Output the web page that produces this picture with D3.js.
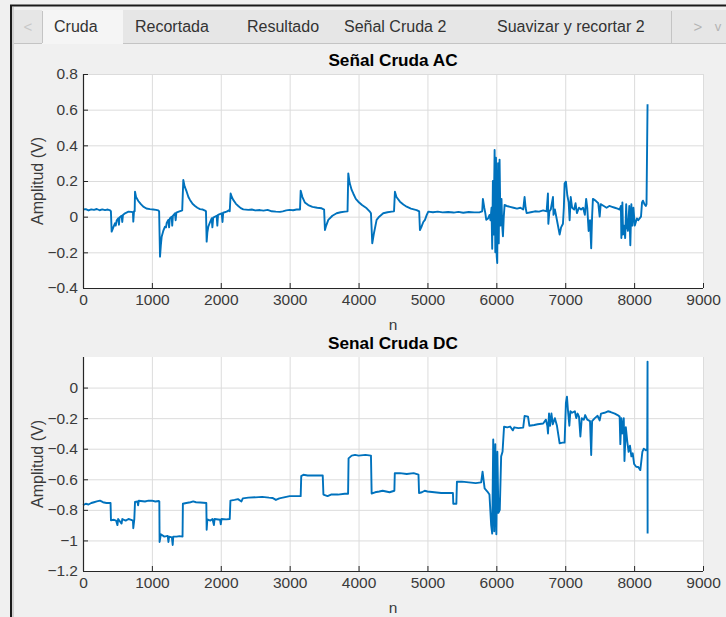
<!DOCTYPE html>
<html>
<head>
<meta charset="utf-8">
<script src="https://cdn.jsdelivr.net/npm/d3@7"></script>
<style>
  html, body { margin: 0; padding: 0; background: #f0f0f0; }
  svg { display: block; font-family: "Liberation Sans", Arial, sans-serif; }
  .tick text { fill: #3a3a3a; }
</style>
</head>
<body>
<svg id="chart" width="726" height="617"></svg>
<script>
// tabs of the app window
const tabLabels = ['Cruda', 'Recortada', 'Resultado', 'Señal Cruda 2', 'Suavizar y recortar 2'];
const tabEdges = [42, 123, 235, 335, 485, 671];

const xTicks = [0, 1000, 2000, 3000, 4000, 5000, 6000, 7000, 8000, 9000];
const acTicks = [-0.4, -0.2, 0, 0.2, 0.4, 0.6, 0.8];
const dcTicks = [-1.2, -1, -0.8, -0.6, -0.4, -0.2, 0];

// [n, amplitude]
const acSignal = [
  [0,0.04],[40,0.042],[80,0.035],[120,0.041],[160,0.038],[200,0.043],[240,0.036],[280,0.041],[320,0.037],[360,0.04],
  [395,0.035],[405,0.03],[416,-0.084],[440,-0.06],[464,-0.037],[475,-0.05],[490,-0.02],[512,-0.009],[522,-0.045],[530,-0.005],
  [560,0.005],[570,-0.03],[580,0.01],[610,0.019],[660,0.028],[700,0.027],[725,0.025],[730,-0.028],[740,0.03],[750,0.03],
  [755,0.14],[770,0.11],[803,0.088],[840,0.07],[875,0.056],[920,0.046],[972,0.042],[1020,0.04],[1060,0.038],[1093,0.035],
  [1105,0.03],[1118,-0.224],[1130,-0.16],[1142,-0.112],[1165,-0.08],[1190,-0.056],[1205,-0.06],[1215,-0.035],[1238,-0.018],[1250,-0.06],
  [1260,-0.01],[1287,0.0],[1295,-0.05],[1305,0.005],[1335,0.019],[1345,-0.02],[1355,0.022],[1390,0.028],[1432,0.034],[1440,0.035],
  [1456,0.206],[1475,0.17],[1505,0.14],[1530,0.11],[1553,0.094],[1590,0.072],[1626,0.06],[1660,0.05],[1698,0.042],[1740,0.04],
  [1771,0.034],[1785,0.03],[1795,-0.14],[1805,-0.09],[1819,-0.056],[1845,-0.03],[1868,-0.009],[1878,-0.06],[1890,-0.005],[1940,0.005],
  [1950,-0.05],[1960,0.01],[2013,0.019],[2025,-0.03],[2035,0.022],[2085,0.028],[2124,0.037],[2130,0.03],[2143,0.13],[2160,0.11],
  [2181,0.094],[2220,0.072],[2254,0.06],[2290,0.048],[2327,0.041],[2400,0.038],[2450,0.04],[2500,0.035],[2569,0.037],[2620,0.034],
  [2680,0.038],[2740,0.03],[2800,0.028],[2860,0.027],[2900,0.03],[2950,0.035],[3000,0.038],[3050,0.036],[3100,0.04],[3150,0.04],
  [3160,0.146],[3185,0.11],[3220,0.08],[3270,0.065],[3330,0.055],[3400,0.05],[3464,0.047],[3500,0.04],[3512,-0.075],[3530,-0.05],
  [3561,-0.018],[3620,0.005],[3682,0.019],[3740,0.025],[3802,0.028],[3840,0.03],[3851,0.243],[3870,0.19],[3900,0.15],[3923,0.13],
  [3960,0.1],[3996,0.084],[4050,0.065],[4118,0.047],[4160,0.03],[4180,0.019],[4199,-0.149],[4220,-0.1],[4262,-0.018],[4300,0.0],
  [4358,0.019],[4420,0.025],[4480,0.028],[4515,0.03],[4528,0.14],[4550,0.11],[4601,0.084],[4650,0.068],[4698,0.056],[4760,0.045],
  [4843,0.037],[4880,0.03],[4891,-0.075],[4910,-0.06],[4940,-0.03],[4964,-0.018],[4990,0.01],[5012,0.028],[5080,0.025],[5150,0.028],
  [5220,0.024],[5300,0.026],[5380,0.023],[5450,0.027],[5520,0.022],[5600,0.026],[5680,0.024],[5760,0.025],[5795,0.03],[5805,0.1],
  [5825,0.05],[5840,0.02],[5854,-0.018],[5880,-0.01],[5902,0.01],[5915,-0.02],[5930,0.05],[5940,-0.18],[5950,0.2],[5960,-0.1],
  [5975,0.374],[5985,-0.2],[5995,0.33],[6005,-0.22],[6013,-0.26],[6025,0.3],[6035,-0.15],[6047,0.32],[6060,-0.05],[6075,0.1],
  [6085,-0.05],[6096,-0.11],[6108,0.0],[6120,0.066],[6150,0.06],[6200,0.055],[6250,0.05],[6300,0.045],[6350,0.05],[6390,0.04],
  [6410,0.11],[6425,0.05],[6440,0.02],[6500,0.025],[6560,0.03],[6620,0.028],[6680,0.035],[6730,0.03],[6749,0.13],[6755,-0.04],
  [6770,0.03],[6790,0.04],[6822,0.11],[6830,0.01],[6850,0.04],[6880,-0.02],[6919,-0.1],[6940,-0.06],[6967,-0.04],[6980,0.05],
  [6991,0.187],[7010,0.196],[7030,0.12],[7050,0.08],[7064,-0.02],[7080,0.11],[7100,0.05],[7130,0.04],[7150,0.075],[7170,0.02],
  [7200,0.05],[7230,0.04],[7260,0.05],[7285,0.01],[7304,0.1],[7320,0.05],[7340,-0.08],[7360,-0.02],[7377,-0.177],[7390,0.0],
  [7402,0.1],[7440,0.09],[7480,0.075],[7500,0.0],[7515,0.07],[7560,0.06],[7600,0.05],[7640,0.06],[7680,0.055],[7720,0.05],
  [7760,0.045],[7790,0.04],[7808,0.06],[7815,-0.12],[7830,0.08],[7840,-0.1],[7855,-0.05],[7870,-0.12],[7885,0.07],[7895,-0.05],
  [7910,-0.08],[7930,0.06],[7945,-0.16],[7960,0.07],[7975,-0.05],[7990,0.05],[8010,-0.05],[8025,-0.03],[8040,-0.01],[8060,-0.02],
  [8080,-0.01],[8100,0.0],[8115,0.08],[8128,0.09],[8150,0.07],[8170,0.06],[8180,0.07],[8195,0.63]
];

// [n, amplitude]
const dcSignal = [
  [0,-0.77],[40,-0.76],[80,-0.765],[120,-0.755],[160,-0.75],[200,-0.745],[247,-0.74],[290,-0.75],[340,-0.755],[400,-0.755],
  [406,-0.868],[450,-0.865],[480,-0.87],[500,-0.9],[510,-0.86],[560,-0.89],[570,-0.86],[620,-0.87],[660,-0.86],[700,-0.865],
  [725,-0.87],[730,-0.92],[745,-0.86],[755,-0.748],[790,-0.745],[800,-0.77],[810,-0.74],[900,-0.745],[950,-0.74],[1000,-0.74],
  [1050,-0.745],[1100,-0.742],[1108,-0.745],[1112,-1.01],[1130,-0.96],[1180,-0.975],[1230,-0.97],[1240,-1.01],[1250,-0.975],[1290,-0.98],
  [1302,-1.03],[1310,-0.975],[1360,-0.975],[1400,-0.972],[1445,-0.975],[1450,-0.76],[1500,-0.755],[1560,-0.75],[1600,-0.745],[1640,-0.75],
  [1700,-0.752],[1790,-0.755],[1795,-0.93],[1805,-0.863],[1850,-0.87],[1880,-0.86],[1900,-0.9],[1910,-0.86],[1990,-0.865],[2000,-0.895],
  [2010,-0.86],[2080,-0.862],[2130,-0.86],[2140,-0.74],[2200,-0.735],[2250,-0.73],[2300,-0.745],[2320,-0.725],[2400,-0.72],[2500,-0.718],
  [2600,-0.715],[2700,-0.72],[2750,-0.722],[2800,-0.735],[2850,-0.725],[2900,-0.72],[3000,-0.71],[3100,-0.71],[3160,-0.71],[3168,-0.579],
  [3200,-0.57],[3260,-0.575],[3320,-0.575],[3400,-0.575],[3480,-0.575],[3490,-0.7],[3550,-0.71],[3600,-0.7],[3700,-0.7],[3800,-0.695],
  [3848,-0.695],[3855,-0.463],[3900,-0.445],[3950,-0.44],[4000,-0.445],[4100,-0.44],[4180,-0.445],[4190,-0.693],[4240,-0.685],[4300,-0.68],
  [4350,-0.675],[4400,-0.68],[4450,-0.685],[4520,-0.675],[4526,-0.561],[4600,-0.56],[4700,-0.565],[4800,-0.56],[4870,-0.57],[4878,-0.69],
  [4920,-0.685],[4960,-0.675],[5000,-0.68],[5100,-0.685],[5200,-0.69],[5300,-0.69],[5370,-0.69],[5375,-0.76],[5420,-0.76],[5428,-0.616],
  [5500,-0.615],[5600,-0.62],[5700,-0.625],[5780,-0.62],[5800,-0.55],[5830,-0.66],[5870,-0.68],[5900,-0.7],[5925,-0.9],[5940,-0.955],
  [5955,-0.34],[5970,-0.94],[5985,-0.37],[6000,-0.96],[6015,-0.42],[6030,-0.82],[6050,-0.8],[6070,-0.45],[6090,-0.42],[6112,-0.256],
  [6160,-0.26],[6200,-0.255],[6240,-0.28],[6260,-0.26],[6320,-0.265],[6390,-0.262],[6410,-0.186],[6460,-0.19],[6480,-0.25],[6550,-0.245],
  [6600,-0.24],[6680,-0.235],[6720,-0.21],[6740,-0.25],[6750,-0.3],[6765,-0.17],[6780,-0.25],[6800,-0.17],[6820,-0.24],[6850,-0.2],
  [6880,-0.25],[6919,-0.365],[6960,-0.36],[6991,-0.36],[7010,-0.1],[7025,-0.059],[7040,-0.15],[7060,-0.25],[7075,-0.155],[7100,-0.165],
  [7140,-0.155],[7160,-0.2],[7180,-0.17],[7200,-0.19],[7220,-0.32],[7240,-0.2],[7270,-0.21],[7290,-0.18],[7320,-0.21],[7360,-0.22],
  [7377,-0.441],[7390,-0.22],[7430,-0.2],[7470,-0.185],[7500,-0.215],[7520,-0.17],[7570,-0.165],[7620,-0.155],[7660,-0.16],[7720,-0.17],
  [7760,-0.18],[7790,-0.19],[7800,-0.37],[7815,-0.2],[7830,-0.3],[7850,-0.2],[7860,-0.48],[7880,-0.26],[7900,-0.35],[7920,-0.42],
  [7940,-0.38],[7960,-0.45],[7980,-0.43],[8000,-0.5],[8030,-0.518],[8060,-0.52],[8090,-0.54],[8120,-0.42],[8140,-0.4],[8170,-0.41],
  [8190,-0.4],[8195,0.17],[8196,-0.955]
];

const svg = d3.select('#chart');
const lineColor = '#0072bd';
const gridColor = '#dcdcdc';
const axisColor = '#262626';

// window frame
svg.append('rect').attr('x', 0).attr('y', 0).attr('width', 726).attr('height', 617).attr('fill', '#f0f0f0');
svg.append('line').attr('x1', 10).attr('x2', 726).attr('y1', 5.5).attr('y2', 5.5).attr('stroke', '#1a1a1a').attr('stroke-width', 2);
svg.append('line').attr('x1', 11).attr('x2', 11).attr('y1', 5).attr('y2', 617).attr('stroke', '#1a1a1a').attr('stroke-width', 2);
svg.append('line').attr('x1', 13).attr('x2', 13).attr('y1', 7).attr('y2', 617).attr('stroke', '#b0b0b0').attr('stroke-width', 1);

// tab strip
const tabs = svg.append('g').attr('class', 'tabs');
tabs.append('rect').attr('x', 14).attr('y', 10).attr('width', 712).attr('height', 33).attr('fill', '#e6e6e6');
tabs.append('line').attr('x1', 14).attr('x2', 726).attr('y1', 43.5).attr('y2', 43.5).attr('stroke', '#c4c4c4');
tabs.append('text').attr('x', 28).attr('y', 32).attr('text-anchor', 'middle')
  .attr('font-size', 15).attr('fill', '#c8c8c8').text('<');

tabLabels.forEach((label, i) => {
  const x0 = tabEdges[i], x1 = tabEdges[i + 1];
  const selected = i === 0;
  tabs.append('rect')
    .attr('x', x0).attr('y', selected ? 10 : 11)
    .attr('width', x1 - x0).attr('height', selected ? 34 : 32)
    .attr('fill', selected ? '#f5f5f5' : '#e6e6e6');
  tabs.append('line').attr('x1', x1 + 0.5).attr('x2', x1 + 0.5).attr('y1', 11).attr('y2', 43)
    .attr('stroke', '#c4c4c4');
  tabs.append('text')
    .attr('x', x0 + (i === 3 ? 9 : 12)).attr('y', 32)
    .attr('font-size', 16).attr('fill', '#333')
    .text(label);
});
tabs.append('line').attr('x1', 42.5).attr('x2', 42.5).attr('y1', 11).attr('y2', 43).attr('stroke', '#c4c4c4');
tabs.append('text').attr('x', 698).attr('y', 32).attr('text-anchor', 'middle')
  .attr('font-size', 15).attr('fill', '#b4b4b4').text('>');
tabs.append('text').attr('x', 718).attr('y', 31).attr('text-anchor', 'middle')
  .attr('font-size', 13).attr('fill', '#b4b4b4').text('v');

function drawPanel(cfg) {
  const { top, bottom, left, right, yDomain, yTicks, title, data } = cfg;
  const x = d3.scaleLinear().domain([0, 9000]).range([left, right]);
  const y = d3.scaleLinear().domain(yDomain).range([bottom, top]);
  const g = svg.append('g');

  g.append('rect').attr('x', left).attr('y', top)
    .attr('width', right - left).attr('height', bottom - top).attr('fill', '#fff');

  // grid
  g.append('g').attr('transform', `translate(0,${bottom})`)
    .call(d3.axisBottom(x).tickValues(xTicks).tickSize(-(bottom - top)).tickFormat(''))
    .call(s => s.select('.domain').remove())
    .call(s => s.selectAll('line').attr('stroke', gridColor));
  g.append('g').attr('transform', `translate(${left},0)`)
    .call(d3.axisLeft(y).tickValues(yTicks).tickSize(-(right - left)).tickFormat(''))
    .call(s => s.select('.domain').remove())
    .call(s => s.selectAll('line').attr('stroke', gridColor));

  // trace
  const line = d3.line().x(d => x(d[0])).y(d => y(d[1]));
  g.append('path').datum(data)
    .attr('fill', 'none').attr('stroke', lineColor).attr('stroke-width', 1.9)
    .attr('stroke-linejoin', 'round').attr('d', line);

  // axes with inward ticks
  const gx = g.append('g').attr('transform', `translate(0,${bottom})`)
    .call(d3.axisBottom(x).tickValues(xTicks).tickSizeInner(-5).tickSizeOuter(0).tickPadding(6).tickFormat(d3.format('d')));
  const gy = g.append('g').attr('transform', `translate(${left},0)`)
    .call(d3.axisLeft(y).tickValues(yTicks).tickSizeInner(-5).tickSizeOuter(0).tickPadding(5)
      .tickFormat(d => d3.format('')(+d.toFixed(1))));
  [gx, gy].forEach(a => {
    a.select('.domain').attr('stroke', axisColor).attr('stroke-width', 1.2);
    a.selectAll('.tick line').attr('stroke', axisColor);
    a.selectAll('.tick text').attr('font-size', 15.5).attr('font-family', '"Liberation Sans", Arial, sans-serif');
  });
  gy.select('.domain').attr('d', `M0.5,${top}V${bottom}`);
  gx.select('.domain').attr('d', `M${left},0.5H${right}`);

  // labels
  g.append('text').attr('x', (left + right) / 2).attr('y', top - 8)
    .attr('text-anchor', 'middle').attr('font-size', 17.2).attr('font-weight', 'bold').attr('fill', '#000')
    .text(title);
  g.append('text').attr('x', (left + right) / 2).attr('y', bottom + 42)
    .attr('text-anchor', 'middle').attr('font-size', 15.5).attr('fill', '#3a3a3a').text('n');
  g.append('text')
    .attr('transform', `translate(${left - 40},${(top + bottom) / 2}) rotate(-90)`)
    .attr('text-anchor', 'middle').attr('font-size', 16).attr('fill', '#3a3a3a')
    .text('Amplitud (V)');
}

drawPanel({ top: 74, bottom: 288, left: 83, right: 703, yDomain: [-0.4, 0.8], yTicks: acTicks,
  title: 'Señal Cruda AC', data: acSignal });
drawPanel({ top: 357, bottom: 571, left: 83, right: 703, yDomain: [-1.2, 0.2], yTicks: dcTicks,
  title: 'Senal Cruda DC', data: dcSignal });
</script>
</body>
</html>
